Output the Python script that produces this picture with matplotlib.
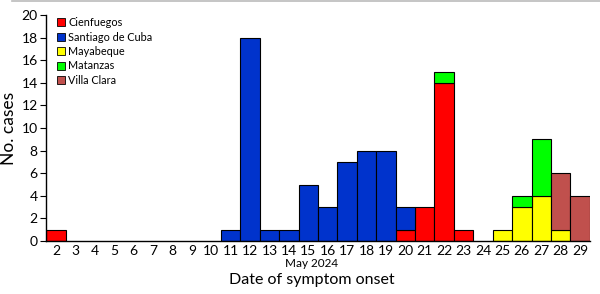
import matplotlib.pyplot as plt
import matplotlib.patches as mpatches
from matplotlib.lines import Line2D
import numpy as np

plt.rcParams['font.family'] = ['Lato', 'DejaVu Sans']

days = list(range(2, 30))
provinces = ['Cienfuegos', 'Santiago de Cuba', 'Mayabeque', 'Matanzas', 'Villa Clara']
colors = ['#FF0000', '#0033CC', '#FFFF00', '#00FF00', '#C0504D']

cienfuegos = {2: 1, 20: 1, 21: 3, 22: 14, 23: 1}
santiago = {11: 1, 12: 18, 13: 1, 14: 1, 15: 5, 16: 3, 17: 7, 18: 8, 19: 8, 20: 2}
mayabeque = {25: 1, 26: 3, 27: 4, 28: 1}
matanzas = {22: 1, 26: 1, 27: 5}
villa_clara = {28: 5, 29: 4}
series = [cienfuegos, santiago, mayabeque, matanzas, villa_clara]

fig = plt.figure(figsize=(6, 2.94), dpi=100)
ax = fig.add_axes([0.077, 0.18, 0.906, 0.769])

x = np.array(days)
bottom = np.zeros(len(days))
for name, col, s in zip(provinces, colors, series):
    vals = np.array([s.get(d, 0) for d in days], dtype=float)
    mask = vals > 0
    ax.bar(x[mask], vals[mask], width=1.0, bottom=bottom[mask], color=col,
           edgecolor='black', linewidth=0.8, label=name)
    bottom += vals

ax.set_xlim(1.5, 29.5)
ax.set_ylim(0, 20)
ax.set_yticks(range(0, 21, 2))
ax.set_xticks(days)
ax.tick_params(axis='x', length=0, labelsize=10, pad=3)
ax.tick_params(axis='y', direction='out', length=4, labelsize=10, pad=2)
for sp in ['top', 'right']:
    ax.spines[sp].set_visible(False)
ax.spines['left'].set_linewidth(1.0)
ax.spines['bottom'].set_linewidth(1.0)

ax.set_ylabel('No. cases', fontsize=12.5, labelpad=3)
fig.text(0.52, 0.103, 'May 2024', ha='center', va='center', fontsize=8.5)
fig.text(0.52, 0.047, 'Date of symptom onset', ha='center', va='center', fontsize=11.5)

handles = [mpatches.Patch(facecolor=c, edgecolor='black', linewidth=0.6) for c in colors]
ax.legend(handles, provinces, loc='upper left', bbox_to_anchor=(0.012, 1.01),
          frameon=False, fontsize=7.8, handlelength=0.75, handleheight=0.75,
          handletextpad=0.3, labelspacing=0.32, borderaxespad=0)

fig.add_artist(Line2D([0.02, 1.0], [0.997, 0.997], color='#bbbbbb', linewidth=1.2))

fig.savefig('out.png', dpi=100, facecolor='white')
